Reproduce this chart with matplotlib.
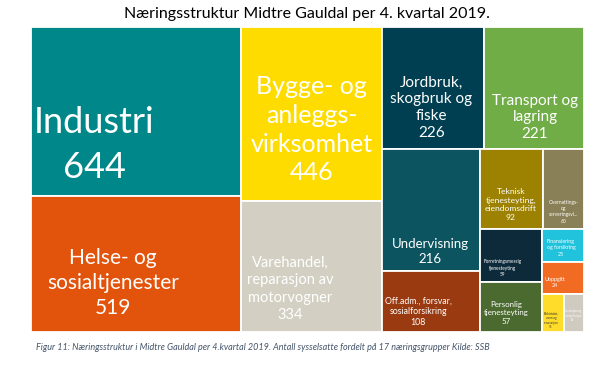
import matplotlib.pyplot as plt
from matplotlib.patches import Rectangle

plt.rcParams['font.family'] = ['Lato', 'DejaVu Sans']

# Data: sysselsatte per næringsgruppe
names = [
    "Industri",
    "Helse- og\nsosialtjenester",
    "Bygge- og\nanleggs-\nvirksomhet",
    "Varehandel,\nreparasjon av\nmotorvogner",
    "Jordbruk,\nskogbruk og\nfiske",
    "Transport og\nlagring",
    "Undervisning",
    "Off.adm., forsvar,\nsosialforsikring",
    "Teknisk\ntjenesteyting,\neiendomsdrift",
    "Overnattings-\nog\nserveringsvi...",
    "Forretningsmessig\ntjenesteyting",
    "Personlig\ntjenesteyting",
    "Finansiering\nog forsikring",
    "Uoppgitt",
    "Elektrisitet,\nvann og\nrenovasjon",
    "Informasjon og\nkommunikasjon",
]
values = [644, 519, 446, 334, 226, 221, 216, 108, 92, 60, 59, 57, 25, 24, 15, 14]
colors = ["#00878a", "#e2530c", "#ffdc00", "#d3cfc2", "#003f51", "#70ad47",
          "#0c5560", "#9a3a10", "#9c8200", "#8a8058", "#0d2a3a", "#4b6a2f",
          "#20c2dc", "#f26b22", "#ffdc2a", "#cfcbc0"]

# Etikett-stil: (relativ x, relativ y, fontstørrelse, farge, linjeavstand)
label_style = [
    (0.30, 0.70, 26, "white", 1.45),
    (0.39, 0.64, 15, "white", 1.3),
    (0.50, 0.59, 18, "white", 1.3),
    (0.35, 0.67, 10.5, "white", 1.3),
    (0.48, 0.66, 11, "white", 1.25),
    (0.51, 0.74, 11, "white", 1.25),
    (0.49, 0.84, 9.5, "white", 1.25),
    (0.37, 0.67, 6.3, "white", 1.3),
    (0.49, 0.69, 6.1, "white", 1.3),
    (0.50, 0.78, 3.5, "white", 1.3),
    (0.37, 0.74, 3.4, "white", 1.3),
    (0.43, 0.62, 5.7, "white", 1.3),
    (0.45, 0.56, 3.8, "white", 1.3),
    (0.30, 0.65, 3.9, "white", 1.3),
    (0.40, 0.70, 2.2, "#333333", 1.2),
    (0.42, 0.57, 2.0, "white", 1.2),
]


def worst(row, side):
    s = sum(row)
    return max(side * side * max(row) / (s * s), (s * s) / (side * side * min(row)))


# Squarified treemap (samme oppsett som Excel)
def squarify(areas, x, y, w, h):
    rects = []
    areas = list(areas)
    while areas:
        side = min(w, h)
        row = [areas[0]]
        i = 1
        while i < len(areas) and worst(row + [areas[i]], side) <= worst(row, side):
            row.append(areas[i])
            i += 1
        s = sum(row)
        if w >= h:
            cw = s / h
            cy = y
            for a in row:
                rh = a / cw
                rects.append((x, cy, cw, rh))
                cy += rh
            x += cw
            w -= cw
        else:
            rh = s / w
            cx = x
            for a in row:
                rw = a / rh
                rects.append((cx, y, rw, rh))
                cx += rw
            y += rh
            h -= rh
        areas = areas[i:]
    return rects


W, H = 553.0, 305.0
total = sum(values)
areas = [v / total * W * H for v in values]
rects = squarify(areas, 0, 0, W, H)

fig = plt.figure(figsize=(6, 3.66), dpi=100)
ax = fig.add_axes([31 / 600, 1 - 332 / 366, 553 / 600, 305 / 366])
ax.set_xlim(0, W)
ax.set_ylim(H, 0)
ax.axis('off')

for (rx, ry, rw, rh), name, val, col, st in zip(rects, names, values, colors, label_style):
    ax.add_patch(Rectangle((rx, ry), rw, rh, facecolor=col, edgecolor='white', linewidth=1.3))
    fx, fy, fs, tc, ls = st
    ax.text(rx + fx * rw, ry + fy * rh, f"{name}\n{val}", ha='center', va='center',
            fontsize=fs, color=tc, linespacing=ls, multialignment='center')

fig.text(0.512, 0.962, "Næringsstruktur Midtre Gauldal per 4. kvartal 2019.",
         ha='center', va='center', fontsize=11.5, color='black')
fig.text(0.06, 0.05, "Figur 11: Næringsstruktur i Midtre Gauldal per 4.kvartal 2019. "
         "Antall sysselsatte fordelt på 17 næringsgrupper Kilde: SSB",
         ha='left', va='center', fontsize=6.5, style='italic', color='#44546a')

fig.savefig('out.png', dpi=100)
